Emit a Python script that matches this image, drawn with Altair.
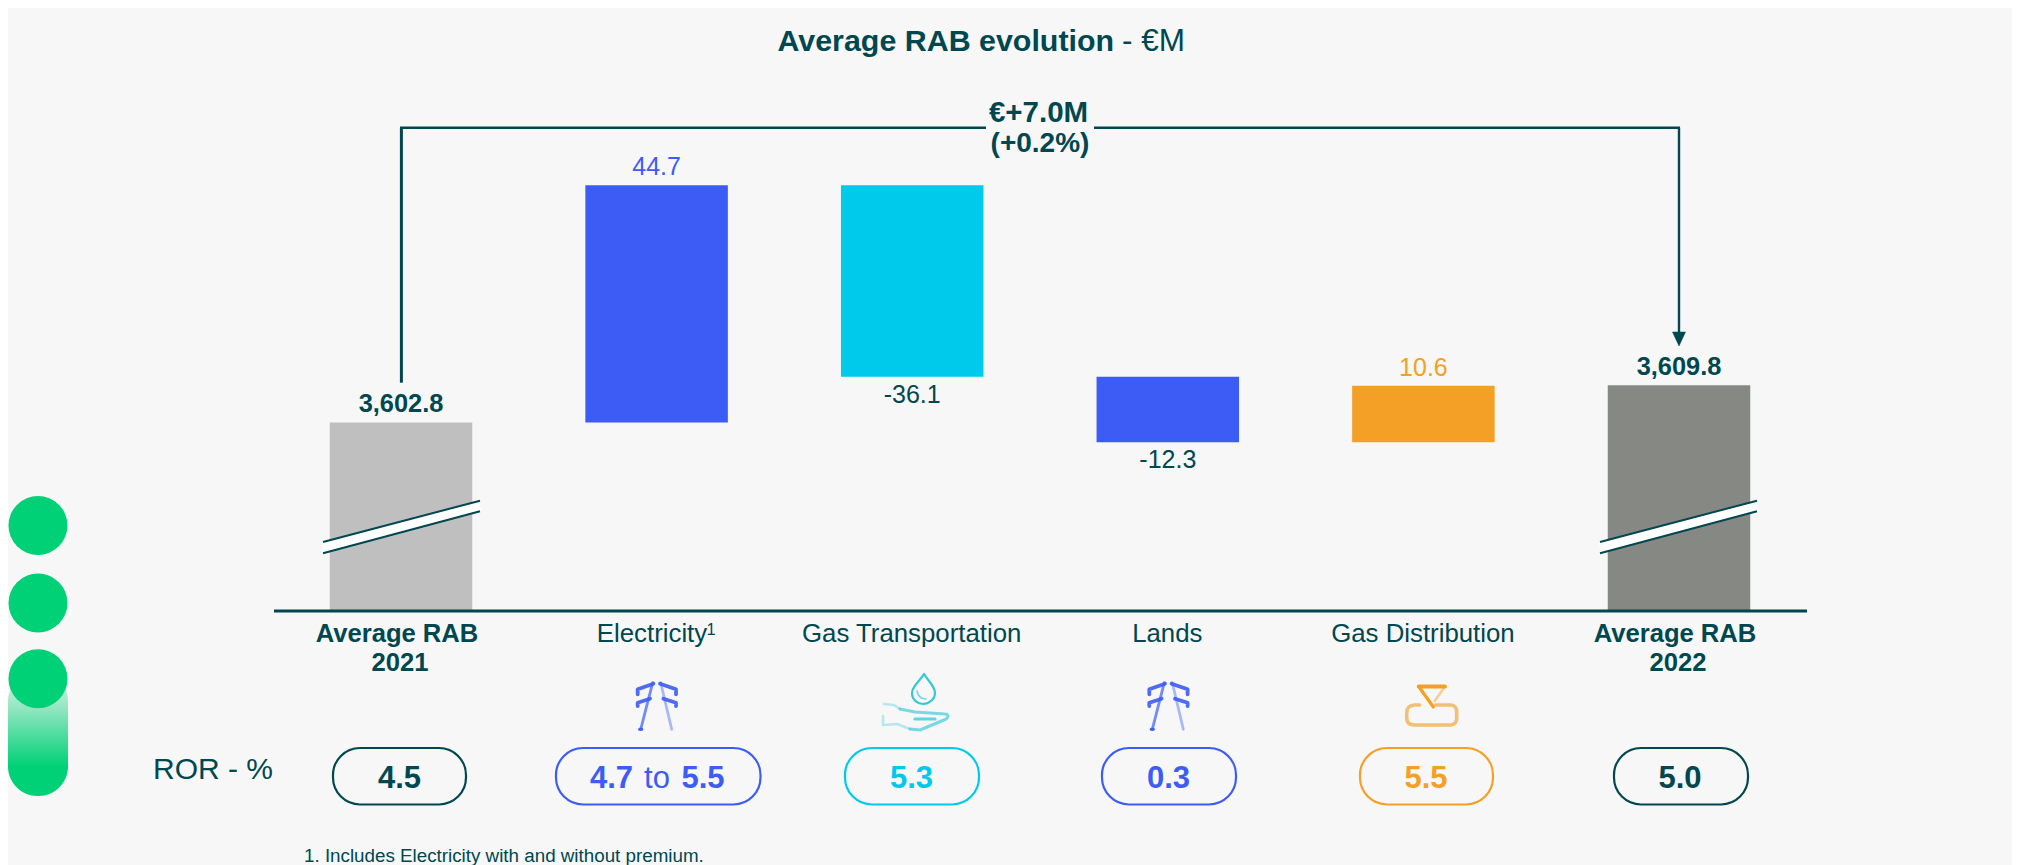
import altair as alt
import pandas as pd

# ---- data ----
categories = ["Average RAB 2021", "Electricity", "Gas Transportation", "Lands", "Gas Distribution", "Average RAB 2022"]
axis_labels_top = ["Average RAB", "Electricity", "Gas Transportation", "Lands", "Gas Distribution", "Average RAB"]
values = [3602.8, 44.7, -36.1, -12.3, 10.6, 3609.8]
value_labels = ["3,602.8", "44.7", "-36.1", "-12.3", "10.6", "3,609.8"]
kinds = ["total", "delta", "delta", "delta", "delta", "total"]
ror_labels = ["4.5", "4.7 to 5.5", "5.3", "0.3", "5.5", "5.0"]
palette = ["#BFBFBF", "#3D5CF5", "#00CAEC", "#3D5CF5", "#F4A026", "#858883"]
label_colors = ["#00474F", "#3D5CF5", "#00474F", "#00474F", "#F4A026", "#00474F"]
AXIS_BREAK_VALUE = 3567.3

TEAL = "#00474F"
BLUE = "#3D5CF5"
CYAN = "#00CAEC"
ORANGE = "#F4A026"
GREEN = "#00D176"
BG = "#F7F7F7"
FONT = "Liberation Sans"
W, H = 2004, 857
PX_PER_UNIT = 5.31
SPACING = 255.6
X0 = 393.0
Y_BASE = 603.0

# waterfall table
rows = []
running = 0.0
for i, (c, v, k) in enumerate(zip(categories, values, kinds)):
    if k == "total":
        start, end = AXIS_BREAK_VALUE, v
        running = v
    else:
        start, end = running, running + v
        running = end
    rows.append(dict(idx=i, cat=c, value=v, kind=k, start=start, end=end,
                     top=max(start, end), bottom=min(start, end),
                     line1=axis_labels_top[i], label=value_labels[i], label_color=label_colors[i]))
df = pd.DataFrame(rows)

x_scale = alt.Scale(domain=[-X0 / SPACING, (W - X0) / SPACING], range=[0, W], nice=False, zero=False, padding=0)
y_scale = alt.Scale(domain=[AXIS_BREAK_VALUE - (H - Y_BASE) / PX_PER_UNIT, AXIS_BREAK_VALUE + Y_BASE / PX_PER_UNIT],
                    range=[H, 0], nice=False, zero=False, padding=0)
X = alt.X("idx:Q", scale=x_scale, axis=None)
one = pd.DataFrame({"a": [0]})


def text(s, x, y, size=25, bold=False, color=TEAL, align="center", opacity=1):
    return alt.Chart(one).mark_text(
        text=s, font=FONT, fontSize=size, fontWeight="bold" if bold else "normal",
        color=color, align=align, baseline="alphabetic", opacity=opacity,
    ).encode(x=alt.value(x - 8), y=alt.value(y - 8))


def rule(x1, y1, x2, y2, width=2, color=TEAL):
    return alt.Chart(one).mark_rule(color=color, strokeWidth=width).encode(
        x=alt.value(x1 - 8), y=alt.value(y1 - 8), x2=alt.value(x2 - 8), y2=alt.value(y2 - 8))


def icon(path, x, y, color, width=2.6, opacity=1.0):
    return alt.Chart(one).mark_point(shape=path, size=4, strokeWidth=width, opacity=opacity,
                                     strokeCap="round", strokeJoin="round",
                                     fill="transparent", stroke=color).encode(
        x=alt.value(x - 8), y=alt.value(y - 8))


def pill(x1, x2, color):
    return alt.Chart(one).mark_rect(fill="transparent", stroke=color, strokeWidth=2.2, cornerRadius=27).encode(
        x=alt.value(x1 - 8), x2=alt.value(x2 - 8), y=alt.value(748 - 8), y2=alt.value(804.5 - 8))


def circle(x, y):
    return alt.Chart(one).mark_point(shape="circle", size=3481, fill=GREEN, filled=True, opacity=1).encode(
        x=alt.value(x - 8), y=alt.value(y - 8))


layers = []

# green side decoration
grad = alt.LinearGradient(gradient="linear", x1=0, x2=0, y1=0, y2=1, stops=[
    alt.GradientStop(color="#D8F5E8", offset=0),
    alt.GradientStop(color="#9BE8C6", offset=0.26),
    alt.GradientStop(color=GREEN, offset=0.76),
    alt.GradientStop(color=GREEN, offset=1),
])
layers.append(alt.Chart(one).mark_rect(fill=grad, cornerRadius=29.5).encode(
    x=alt.value(0), x2=alt.value(60), y=alt.value(672 - 8), y2=alt.value(796 - 8)))
layers += [circle(38, 525.5), circle(38, 603), circle(38, 678.7)]

# bars
layers.append(alt.Chart(df).mark_bar(size=142.5).encode(
    x=X,
    y=alt.Y("start:Q", scale=y_scale, axis=None),
    y2="end:Q",
    color=alt.Color("cat:N", scale=alt.Scale(domain=categories, range=palette), legend=None),
))

# axis-break marks
for off in [0, 1277]:
    layers.append(rule(323 + off, 547.6, 480 + off, 506, width=10.6, color="#FFFFFF"))
    layers.append(rule(323 + off, 542, 480 + off, 500.7, width=2))
    layers.append(rule(323 + off, 553.3, 480 + off, 511.2, width=2))

# baseline
layers.append(rule(274, 611, 1807, 611, width=3))

# value labels
for kind_test, field, dy, bold in [
    ("datum.kind == 'total'", "top", -10, True),
    ("datum.kind == 'delta' && datum.value > 0", "top", -10, False),
    ("datum.value < 0", "bottom", 26, False),
]:
    layers.append(alt.Chart(df).transform_filter(kind_test).mark_text(
        font=FONT, fontSize=25.4 if bold else 25, fontWeight="bold" if bold else "normal",
        baseline="alphabetic", dy=dy,
    ).encode(
        x=X,
        y=alt.Y(f"{field}:Q", scale=y_scale, axis=None),
        text=alt.Text("label:N"),
        color=alt.Color("label_color:N", scale=None),
    ))

# category labels
for test, bold, dx in [("datum.kind == 'total'", True, -4),
                       ("datum.cat == 'Electricity'", False, -4.6),
                       ("datum.kind != 'total' && datum.cat != 'Electricity'", False, -0.5)]:
    layers.append(alt.Chart(df).transform_filter(test).mark_text(
        font=FONT, fontSize=25.6 if bold else 25.8, fontWeight="bold" if bold else "normal",
        color=TEAL, baseline="alphabetic", dx=dx,
    ).encode(x=X, y=alt.value(642.4 - 8), text="line1:N"))
layers.append(text("1", 711, 635, size=16.5))
layers.append(text("2021", 400, 670.5, bold=True, size=25.6))
layers.append(text("2022", 1678, 670.5, bold=True, size=25.6))

# title
layers.append(text("Average RAB evolution", 777.5, 50.7, size=30.4, bold=True, align="left"))
layers.append(text("- €M", 1122, 50.7, size=31.5, align="left"))

# total-change bracket
layers.append(rule(401.4, 127.7, 401.4, 382.7, width=3))
layers.append(rule(400, 127.7, 986, 127.7, width=2.4))
layers.append(rule(1094, 127.7, 1680, 127.7, width=2.4))
layers.append(rule(1679, 127.7, 1679, 334, width=2.4))
layers.append(alt.Chart(one).mark_point(shape="M-0.93,-1L0.93,-1L0,1Z", size=196, fill=TEAL, stroke=TEAL,
                                        strokeWidth=0.5, opacity=1).encode(x=alt.value(1679 - 8), y=alt.value(339 - 8)))
layers.append(text("€+7.0M", 1038.5, 121.7, size=29.5, bold=True))
layers.append(text("(+0.2%)", 1040, 151.7, size=28, bold=True))

# ROR row
layers.append(text("ROR - %", 153, 779.3, size=30, align="left"))
layers.append(pill(333, 466, TEAL))
layers.append(text(ror_labels[0], 399.5, 788.3, size=31, bold=True))
layers.append(pill(556, 760.5, BLUE))
low, _, high = ror_labels[1].split(" ")
layers.append(text(low, 590, 788.3, size=31, bold=True, color=BLUE, align="left"))
layers.append(text("to", 657, 788.3, size=31, color=BLUE))
layers.append(text(high, 681.5, 788.3, size=31, bold=True, color=BLUE, align="left"))
layers.append(pill(845, 979, CYAN))
layers.append(text(ror_labels[2], 911.5, 788.3, size=31, bold=True, color=CYAN))
layers.append(pill(1102, 1236, BLUE))
layers.append(text(ror_labels[3], 1168.5, 788.3, size=31, bold=True, color=BLUE))
layers.append(pill(1360, 1493, ORANGE))
layers.append(text(ror_labels[4], 1426, 788.3, size=31, bold=True, color=ORANGE))
layers.append(pill(1614, 1748, TEAL))
layers.append(text(ror_labels[5], 1680, 788.3, size=31, bold=True))

# footnote
layers.append(text("1. Includes Electricity with and without premium.", 304, 861.7, size=18.8, align="left"))

# icons (paths are pixel-sized around a centre)
TOWER_ARMS = ("M-3.3,-22.3L-19,-16.7L-19,-11.7M-6.7,-7.3L-19,-3.3L-19,0"
              "M3.3,-22.3L19.3,-16.7L19.3,-11.7M6.7,-7.3L19.3,-3.3L19.3,0")
TOWER_LEG_L = "M-4,-23.3L-16,23.3"
TOWER_LEG_R = "M4,-23.3L15,23.3"
TOWER_DOT = "M-17,23.3L-15,23.3"
for cx in [656.7, 1168.3]:
    layers.append(icon(TOWER_LEG_R, cx, 706, BLUE, width=2.8, opacity=0.4))
    layers.append(icon(TOWER_LEG_L, cx, 706, BLUE, width=2.8, opacity=0.7))
    layers.append(icon(TOWER_ARMS, cx, 706, BLUE, width=3.8, opacity=0.9))
    layers.append(icon(TOWER_DOT, cx, 706, BLUE, width=3, opacity=1))

DROP = "M9,-28C5,-21 -3,-16 -3,-9C-3,-2 3,2 8,2C14,2 20,-3 20,-9C20,-16 13,-21 9,-28Z"
DROP_IN = "M2,-11C3,-6 6,-3 11,-3"
HAND_R = "M-15,7L0,10L30,12C35,12 33,17 29,18L5,28L-5,27"
HAND_FING = "M0,17L20,17"
HAND_L = "M-31,2L-21,3L-15,7M-5,27L-18,22L-32,23L-32,14"
hx, hy = 915, 702
layers.append(icon(HAND_L, hx, hy, "#27C5D8", width=2.6, opacity=0.3))
layers.append(icon(HAND_R, hx, hy, "#27C5D8", width=3, opacity=0.6))
layers.append(icon(HAND_FING, hx, hy, "#27C5D8", width=3.2, opacity=0.7))
layers.append(icon(DROP, hx, hy, "#1FC4CF", width=2.2, opacity=0.9))
layers.append(icon(DROP_IN, hx, hy, "#1FC4CF", width=1.6, opacity=0.6))

GAS_TRI = "M-13,-18.5L13.3,-18.5"
GAS_TRI_L = "M-13,-18.5L1.7,2"
GAS_TRI_R = "M13.3,-18.5L3,-4"
GAS_BOX = "M-12,0L-17,0C-22,0 -25,3 -25,8L-25,13C-25,18 -22,20 -17,20L19,20C23,20 25,17 25,13L25,7C25,3 23,0 19,0L4,0"
gx, gy = 1431.7, 705
layers.append(icon(GAS_BOX, gx, gy, "#EEA93F", width=3.6, opacity=0.7))
layers.append(icon(GAS_TRI_R, gx, gy, ORANGE, width=2.8, opacity=0.45))
layers.append(icon(GAS_TRI_L, gx, gy, ORANGE, width=3.2, opacity=1))
layers.append(icon(GAS_TRI, gx, gy, ORANGE, width=3.8, opacity=1))

chart = alt.layer(*layers).properties(
    width=W, height=H, background=BG, padding=0,
    autosize=alt.AutoSizeParams(type="none"),
).configure_view(stroke=None)

chart.save("out.html", embed_options={"renderer": "svg", "actions": False})
